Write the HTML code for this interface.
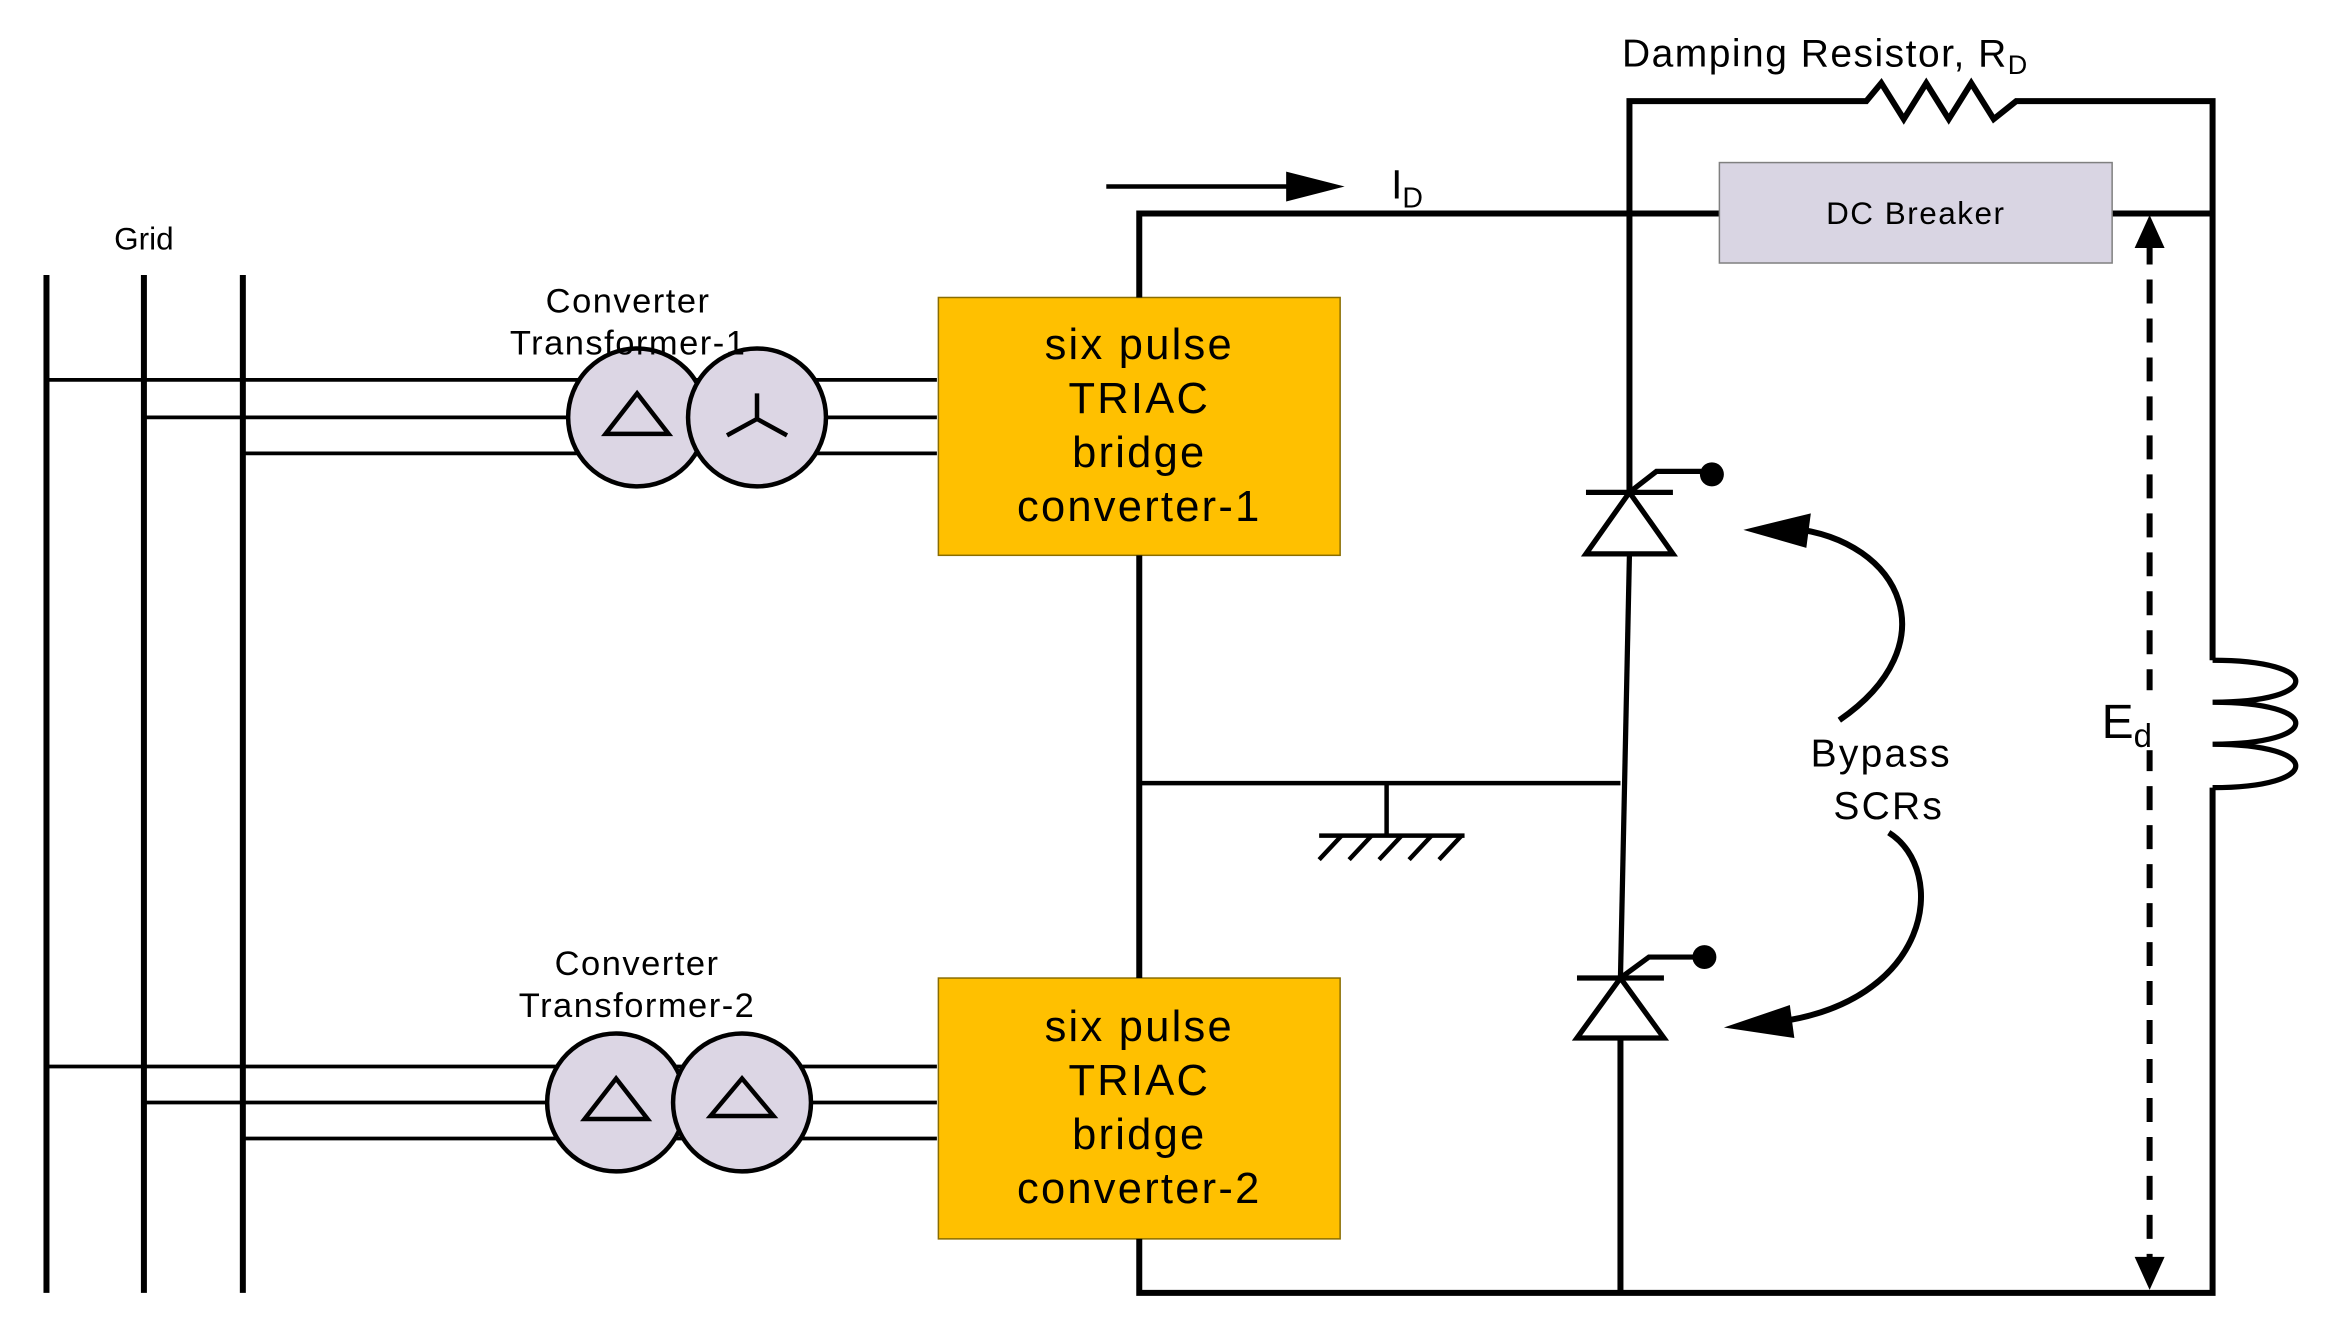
<!DOCTYPE html>
<html><head><meta charset="utf-8"><style>
html,body{margin:0;padding:0;background:#fff;}
svg{display:block;}
text{font-family:"Liberation Sans",sans-serif;fill:#000;}
</style></head><body>
<svg width="2328" height="1328" viewBox="0 0 1553 885" xmlns="http://www.w3.org/2000/svg">
<g stroke="#000" stroke-width="4" fill="none">
<line x1="31" y1="183" x2="31" y2="862"/>
<line x1="96" y1="183" x2="96" y2="862"/>
<line x1="162" y1="183" x2="162" y2="862"/>
</g>
<text x="96" y="166" font-size="21" text-anchor="middle">Grid</text>
<g stroke="#000" stroke-width="2.5">
<line x1="31" y1="253" x2="625" y2="253"/>
<line x1="96" y1="278" x2="625" y2="278"/>
<line x1="162" y1="302" x2="625" y2="302"/>
<line x1="31" y1="711" x2="625" y2="711"/>
<line x1="96" y1="735" x2="625" y2="735"/>
<line x1="162" y1="759" x2="625" y2="759"/>
</g>
<g fill="#dcd6e4" stroke="#000" stroke-width="3">
<circle cx="425" cy="278" r="46"/><circle cx="505" cy="278" r="46"/>
<circle cx="411" cy="735" r="46"/><circle cx="495" cy="735" r="46"/>
</g>
<g fill="none" stroke="#000" stroke-width="3">
<path d="M425,262 L446,289 L404,289 Z"/>
<path d="M505,262 L505,279 L485,290 M505,279 L525,290"/>
<path d="M411,719 L432,746 L390,746 Z"/>
<path d="M495,719 L516,744 L474,744 Z"/>
</g>
<text x="419" y="208" font-size="23" text-anchor="middle" letter-spacing="1">Converter</text>
<text x="419" y="236" font-size="23" text-anchor="middle" letter-spacing="1">Transformer-1</text>
<text x="425" y="650" font-size="23" text-anchor="middle" letter-spacing="1">Converter</text>
<text x="425" y="678" font-size="23" text-anchor="middle" letter-spacing="1">Transformer-2</text>
<rect x="626" y="198" width="268" height="172" fill="#ffc000" stroke="#8a6d00" stroke-width="1"/>
<rect x="626" y="652" width="268" height="174" fill="#ffc000" stroke="#8a6d00" stroke-width="1"/>
<g font-size="29" text-anchor="middle" letter-spacing="1.5">
<text x="760" y="239">six pulse</text><text x="760" y="275">TRIAC</text><text x="760" y="311">bridge</text><text x="760" y="347">converter-1</text>
<text x="760" y="694">six pulse</text><text x="760" y="730">TRIAC</text><text x="760" y="766">bridge</text><text x="760" y="802">converter-2</text>
</g>
<g stroke="#000" stroke-width="4" fill="none">
<path d="M760,198 L760,142 L1147,142"/>
<line x1="760" y1="370" x2="760" y2="652"/>
<path d="M760,826 L760,862 L1476,862 L1476,525"/>
<path d="M1409,142 L1476,142"/>
<path d="M1087,328 L1087,67 L1245,67 L1255,55 L1270,79 L1285,55 L1300,79 L1315,55 L1330,79 L1345,67 L1476,67 L1476,440"/>
<path d="M1476,440 C1550,440 1550,468 1476,468 C1550,468 1550,496 1476,496 C1550,496 1550,525 1476,525" stroke-width="3.5"/>
<line x1="760" y1="522" x2="1081" y2="522" stroke-width="3"/>
<line x1="925" y1="522" x2="925" y2="557" stroke-width="3"/>
<line x1="880" y1="557" x2="977" y2="557" stroke-width="3"/>
<path d="M895,557 L880,573 M915,557 L900,573 M935,557 L920,573 M955,557 L940,573 M975,557 L960,573" stroke-width="3"/>
<line x1="1087" y1="369" x2="1081" y2="652" stroke-width="3.5"/>
<line x1="1081" y1="692" x2="1081" y2="862"/>
</g>
<rect x="1147" y="108" width="262" height="67" fill="#d9d5e3" stroke="#808080" stroke-width="1"/>
<text x="1278" y="149" font-size="21" text-anchor="middle" letter-spacing="1">DC Breaker</text>
<line x1="738" y1="124" x2="865" y2="124" stroke="#000" stroke-width="3"/>
<path d="M897,124 L858,114 L858,134 Z" fill="#000"/>
<text x="928" y="132" font-size="27">I<tspan font-size="19" dy="6">D</tspan></text>
<text x="1082" y="44" font-size="26" letter-spacing="1">Damping Resistor, R<tspan font-size="18" dy="5">D</tspan></text>
<g stroke="#000" stroke-width="3.5" fill="#fff">
<path d="M1087,328 L1116,369 L1058,369 Z"/>
<line x1="1058" y1="328" x2="1116" y2="328"/>
<path d="M1087,328 L1105,314 L1135,314" fill="none"/>
<path d="M1081,652 L1110,692 L1052,692 Z"/>
<line x1="1052" y1="652" x2="1110" y2="652"/>
<path d="M1081,652 L1100,638 L1130,638" fill="none"/>
</g>
<circle cx="1142" cy="316" r="8" fill="#000"/>
<circle cx="1137" cy="638" r="8" fill="#000"/>
<g stroke="#000" stroke-width="4" fill="none">
<path d="M1227,480 C1300,430 1270,360 1195,352"/>
<path d="M1260,555 C1300,580 1290,670 1180,682"/>
</g>
<path d="M1163,353 L1208,342 L1205,365 Z" fill="#000"/>
<path d="M1150,685 L1194,670 L1197,692 Z" fill="#000"/>
<text x="1255" y="511" font-size="26" text-anchor="middle" letter-spacing="1.5">Bypass</text>
<text x="1260" y="546" font-size="26" text-anchor="middle" letter-spacing="1.5">SCRs</text>
<line x1="1434" y1="160" x2="1434" y2="845" stroke="#000" stroke-width="4" stroke-dasharray="16,10"/>
<path d="M1434,143 L1444,165 L1424,165 Z" fill="#000"/>
<path d="M1434,860 L1444,838 L1424,838 Z" fill="#000"/>
<rect x="1400" y="460" width="52" height="40" fill="#fff"/>
<text x="1402" y="492" font-size="32">E<tspan font-size="22" dy="6">d</tspan></text>
</svg>
</body></html>
